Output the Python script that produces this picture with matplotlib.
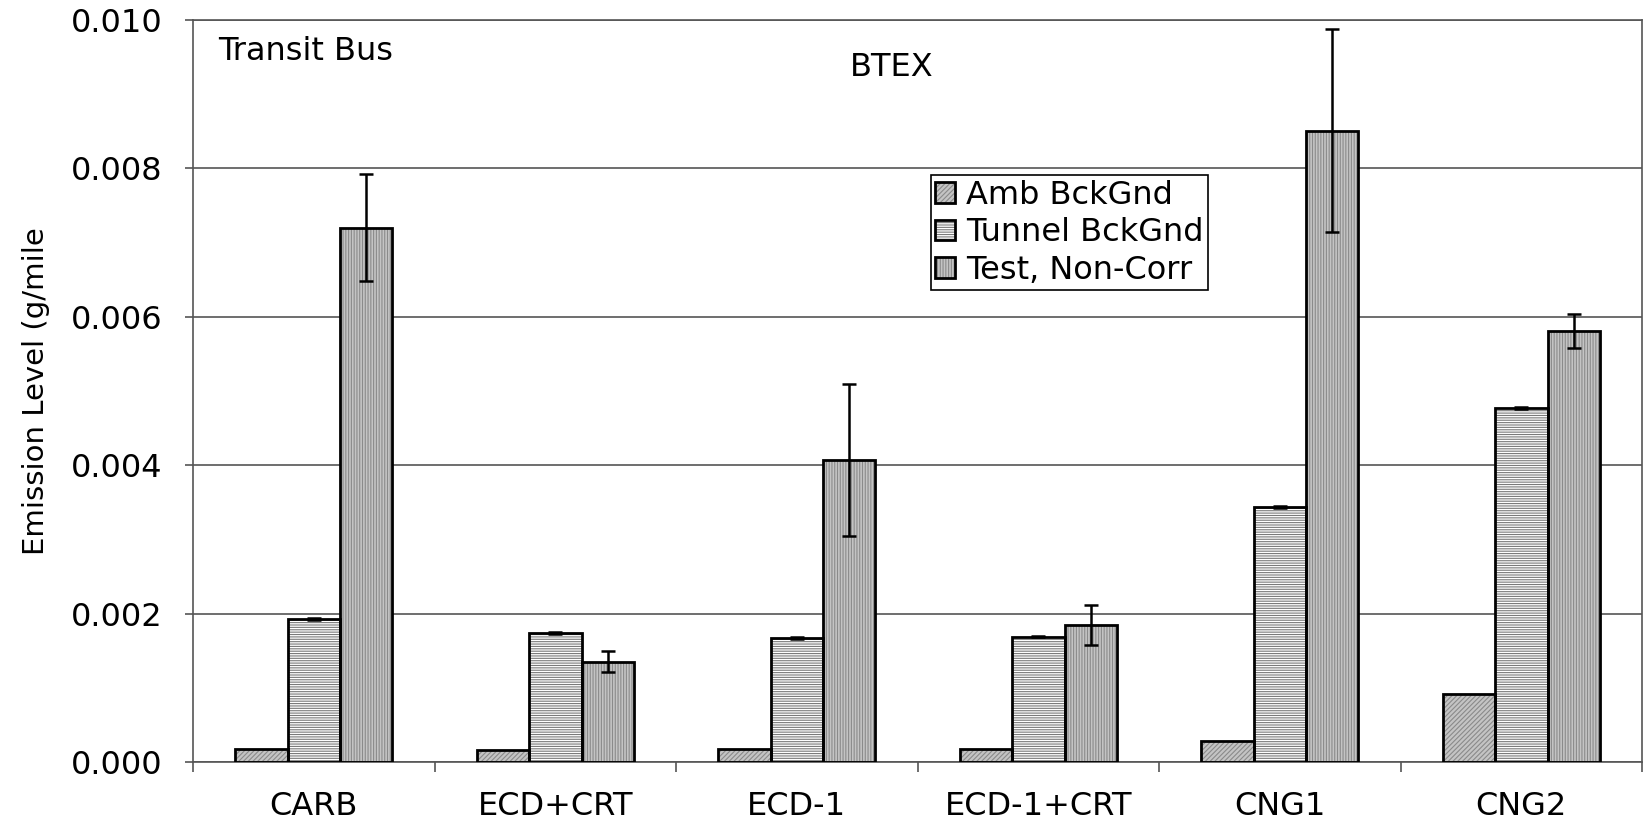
import numpy as np
import matplotlib
matplotlib.use("Agg")
import matplotlib.pyplot as plt
from matplotlib.legend_handler import HandlerTuple

plt.rcParams['font.family'] = ['DejaVu Sans']
plt.rcParams['hatch.linewidth'] = 0.8

# данные
categories = ["CARB", "ECD+CRT", "ECD-1", "ECD-1+CRT", "CNG1", "CNG2"]
series_names = ["Amb BckGnd", "Tunnel BckGnd", "Test, Non-Corr"]
amb = [0.00017, 0.00016, 0.00018, 0.00018, 0.00028, 0.00092]
tunnel = [0.00193, 0.00174, 0.00167, 0.00169, 0.00344, 0.00477]
test = [0.00720, 0.00135, 0.00407, 0.00185, 0.00851, 0.00581]
amb_err = [0.0, 0.0, 0.0, 0.0, 0.0, 0.0]
tunnel_err = [0.00001, 0.00001, 0.00001, 0.00001, 0.00001, 0.00001]
test_err = [0.00072, 0.00014, 0.00102, 0.00027, 0.00137, 0.00023]

fig = plt.figure(figsize=(16.46, 8.23), dpi=100)
ax = fig.add_axes([0.1173, 0.0741, 0.8803, 0.9016])

x = np.arange(len(categories))
w = 0.217
styles = [
    dict(face="#c4c4c4", hatch="///////", hcol="#8a8a8a"),
    dict(face="#ffffff", hatch="-------", hcol="#7a7a7a"),
    dict(face="#c4c4c4", hatch="||||||", hcol="#8a8a8a"),
]
handles = []
for i, (vals, errs) in enumerate(zip([amb, tunnel, test], [amb_err, tunnel_err, test_err])):
    pos = x + (i - 1) * w
    st = styles[i]
    # заливка со штриховкой
    b1 = ax.bar(pos, vals, w, color=st["face"], hatch=st["hatch"],
                edgecolor=st["hcol"], linewidth=0, zorder=2)
    # чёрный контур
    b2 = ax.bar(pos, vals, w, fill=False, edgecolor="black", linewidth=2, zorder=3)
    if any(e > 0 for e in errs):
        ax.errorbar(pos, vals, yerr=errs, fmt="none", ecolor="black",
                    elinewidth=1.8, capsize=5, capthick=1.8, zorder=4)
    handles.append((b1[0], b2[0]))

ax.set_xlim(-0.5, len(categories) - 0.5)
ax.set_ylim(0, 0.010)
ax.set_yticks(np.arange(0, 0.0101, 0.002))
ax.set_yticklabels([f"{v:.3f}" for v in np.arange(0, 0.0101, 0.002)])
ax.yaxis.grid(True, color="#555555", linewidth=1.2, zorder=0)
ax.set_axisbelow(True)

ax.set_xticks(x)
ax.set_xticklabels(categories)
ax.set_xticks(np.arange(-0.5, len(categories)), minor=True)
ax.tick_params(axis="x", which="major", length=0, pad=21, labelsize=23)
ax.tick_params(axis="x", which="minor", length=7, width=1.2, color="#555555")
ax.tick_params(axis="y", length=6, width=1.2, color="#555555", pad=16, labelsize=23)

for s in ax.spines.values():
    s.set_color("#555555")
    s.set_linewidth(1.2)

ax.set_ylabel("Emission Level (g/mile", fontsize=21)
ax.yaxis.set_label_coords(-0.099, 0.5)

ax.text(0.017, 0.946, "Transit Bus", transform=ax.transAxes, fontsize=23,
        va="baseline", ha="left")
ax.text(0.4824, 0.925, "BTEX", transform=ax.transAxes, fontsize=23,
        va="baseline", ha="center")

leg = ax.legend(handles, series_names, handler_map={tuple: HandlerTuple(ndivide=1)},
                loc="upper left", bbox_to_anchor=(0.509, 0.791), fontsize=23,
                frameon=True, fancybox=False, edgecolor="black", framealpha=1,
                handlelength=0.6, handleheight=0.6, handletextpad=0.35,
                borderpad=0.15, labelspacing=0.2, borderaxespad=0)
leg.get_frame().set_linewidth(1.2)

fig.savefig("out.png", dpi=100)
